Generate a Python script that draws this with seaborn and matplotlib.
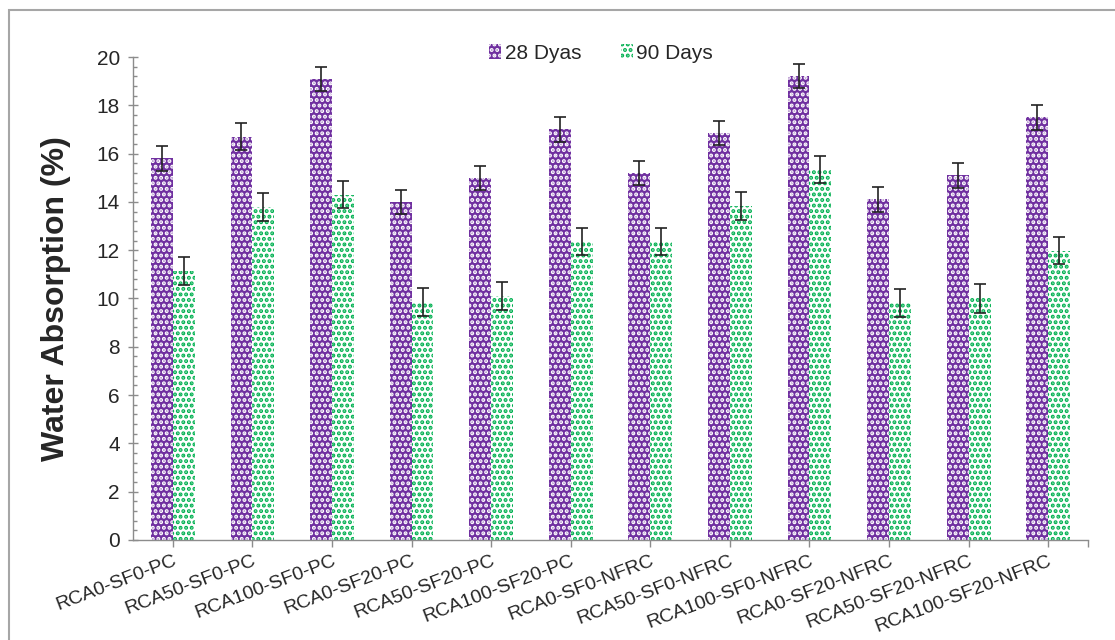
"""
Absorción de agua a 28 y 90 días por mezcla.
"""

import matplotlib.pyplot as plt
import numpy as np
import pandas as pd
import seaborn as sns
from matplotlib.patches import Rectangle

mezclas = [
    "RCA0-SF0-PC", "RCA50-SF0-PC", "RCA100-SF0-PC", "RCA0-SF20-PC",
    "RCA50-SF20-PC", "RCA100-SF20-PC", "RCA0-SF0-NFRC", "RCA50-SF0-NFRC",
    "RCA100-SF0-NFRC", "RCA0-SF20-NFRC", "RCA50-SF20-NFRC", "RCA100-SF20-NFRC",
]
absorcion_28 = [15.8, 16.7, 19.1, 14.0, 15.0, 17.0, 15.2, 16.85, 19.2, 14.1, 15.1, 17.5]
absorcion_90 = [11.15, 13.8, 14.3, 9.85, 10.1, 12.35, 12.35, 13.83, 15.35, 9.82, 10.0, 11.97]
error_28 = [0.5, 0.55, 0.5, 0.5, 0.5, 0.5, 0.5, 0.5, 0.5, 0.5, 0.52, 0.51]
error_90 = [0.58, 0.57, 0.55, 0.58, 0.58, 0.56, 0.56, 0.57, 0.55, 0.58, 0.58, 0.56]
series = ["28 Dyas", "90 Days"]

MORADO = "#7030A0"
VERDE = "#00B050"
GRIS = "#8c8c8c"


def armar_tabla():
    """Pasa las listas a formato largo para seaborn."""
    df = pd.DataFrame({
        "Mezcla": mezclas * 2,
        "Serie": [series[0]] * len(mezclas) + [series[1]] * len(mezclas),
        "Absorcion": absorcion_28 + absorcion_90,
    })
    return df


def graficar(df):
    sns.set_theme(style="white")
    plt.rcParams["font.family"] = ["Liberation Sans", "DejaVu Sans"]
    plt.rcParams["hatch.linewidth"] = 2.0

    fig = plt.figure(figsize=(11.15, 6.4), dpi=100)
    ax = fig.add_axes([0.1193, 0.1563, 0.8565, 0.7546])

    sns.barplot(
        data=df, x="Mezcla", y="Absorcion", hue="Serie",
        order=mezclas, hue_order=series, width=0.55,
        errorbar=None, legend=False, ax=ax,
    )

    # Relleno de puntos tipo Excel
    for barra in ax.containers[0]:
        barra.set_facecolor(MORADO)
        barra.set_edgecolor("white")
        barra.set_hatch("...")
        barra.set_linewidth(0)
    for barra in ax.containers[1]:
        barra.set_facecolor("white")
        barra.set_edgecolor(VERDE)
        barra.set_hatch("...")
        barra.set_linewidth(0)

    # Barras de error
    for cont, valores, errores in zip(ax.containers, [absorcion_28, absorcion_90], [error_28, error_90]):
        xs = [b.get_x() + b.get_width() / 2 for b in cont]
        ax.errorbar(xs, valores, yerr=errores, fmt="none", ecolor="#222222",
                    elinewidth=1.2, capsize=4.5, capthick=1.2, zorder=5)

    ax.set_ylim(0, 20)
    ax.set_xlim(-0.5, len(mezclas) - 0.5)
    ax.set_yticks(np.arange(0, 21, 2))
    ax.set_yticks(np.arange(0, 20.01, 0.4), minor=True)
    ax.set_xticks(range(len(mezclas)))
    ax.set_xticks([len(mezclas) - 0.5], minor=True)
    ax.set_xticklabels(mezclas, rotation=21, ha="right", rotation_mode="anchor", fontsize=14)
    ax.tick_params(axis="y", which="major", labelsize=15, direction="inout", length=7,
                   width=1, color=GRIS, left=True, pad=6)
    ax.tick_params(axis="y", which="minor", direction="in", length=3, width=1, color=GRIS, left=True)
    ax.tick_params(axis="x", which="both", direction="out", length=5, width=1, color=GRIS,
                   bottom=True, pad=4)

    for lado in ["top", "right"]:
        ax.spines[lado].set_visible(False)
    for lado in ["left", "bottom"]:
        ax.spines[lado].set_color(GRIS)
        ax.spines[lado].set_linewidth(1)

    ax.set_xlabel("")
    ax.set_ylabel("Water Absorption (%)", fontsize=23, fontweight="bold", labelpad=18)

    fig.legend(
        handles=[ax.containers[0], ax.containers[1]], labels=series,
        loc="center", bbox_to_anchor=(0.539, 0.917), ncol=2, frameon=False,
        fontsize=15, handlelength=0.6, handleheight=0.8, handletextpad=0.15,
        columnspacing=1.9,
    )

    # Marco gris de la figura
    fig.patches.append(Rectangle((9 / 1115, -0.1), 1.2, 1.1 - 10 / 640,
                                 transform=fig.transFigure, fill=False,
                                 edgecolor="#a6a6a6", linewidth=1.5))

    fig.savefig("out.png", dpi=100)
    plt.close(fig)


def main():
    df = armar_tabla()
    graficar(df)


if __name__ == "__main__":
    main()
